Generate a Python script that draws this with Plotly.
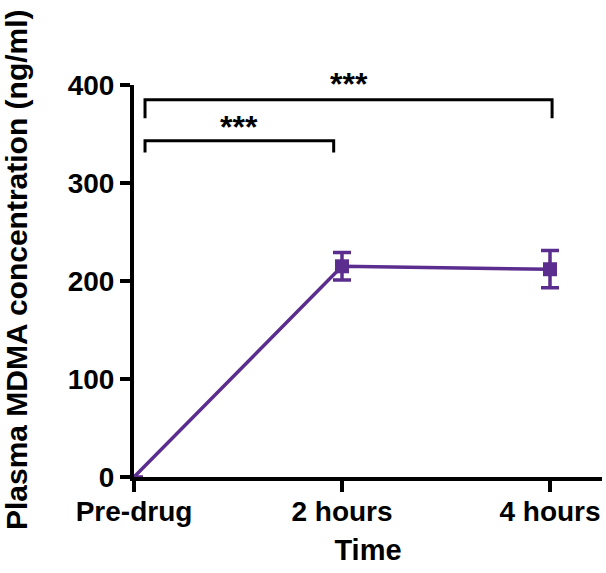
import plotly.graph_objects as go

categories = ["Pre-drug", "2 hours", "4 hours"]
x_pos = [0, 1, 2]
mdma_mean = [0, 215, 212]
mdma_sem = [0, 14, 19]
y_ticks = [0, 100, 200, 300, 400]
y_title = "Plasma MDMA concentration (ng/ml)"
x_title = "Time"

# significance brackets: (x_start, x_end, y_bar, y_tick_end, label_y, label)
brackets = [
    (0.053, 0.96, 343, 331, 357, "***"),
    (0.053, 2.01, 385, 366, 401, "***"),
]

purple = "#5a2d8f"
font_family = "Liberation Sans, Arial, sans-serif"
y_max = 400

fig = go.Figure()
fig.add_trace(go.Scatter(
    x=x_pos, y=mdma_mean,
    mode="lines+markers",
    line=dict(color=purple, width=3.5),
    marker=dict(symbol="square", size=[0, 14, 14], color=purple,
                line=dict(width=0), opacity=1),
    error_y=dict(type="data", array=mdma_sem, visible=True,
                 color=purple, thickness=3.5, width=9),
    cliponaxis=False,
    showlegend=False,
))

for x0, x1, yb, yt, ly, lab in brackets:
    fig.add_shape(type="path",
                  path=f"M {x0},{yt} L {x0},{yb} L {x1},{yb} L {x1},{yt}",
                  line=dict(color="black", width=3), xref="x", yref="y")
    fig.add_annotation(x=(x0 + x1) / 2, y=ly / y_max, text=f"<b>{lab}</b>",
                       showarrow=False, yanchor="middle",
                       font=dict(size=32, color="black", family=font_family),
                       xref="x", yref="paper")

# y-axis title as rotated annotation
fig.add_annotation(x=-0.2521, y=0.528, xref="paper", yref="paper",
                   text=f"<b>{y_title}</b>", textangle=-90, showarrow=False,
                   xanchor="center", yanchor="middle",
                   font=dict(size=30, color="black", family=font_family))

fig.update_layout(
    width=606, height=573,
    margin=dict(l=134, r=4, t=85, b=96),
    plot_bgcolor="white", paper_bgcolor="white",
    font=dict(family=font_family, color="black"),
)
fig.update_xaxes(
    range=[0, 2.25], tickvals=x_pos,
    ticktext=[f"<b>{c}</b>" for c in categories],
    showgrid=False, zeroline=False, automargin=False,
    showline=True, linecolor="black", linewidth=4,
    ticks="outside", ticklen=11, tickwidth=3.5, tickcolor="black",
    ticklabelstandoff=-5,
    tickfont=dict(size=28, family=font_family),
    title=dict(text=f"<b>{x_title}</b>", font=dict(size=29, family=font_family)),
)
fig.update_yaxes(
    range=[0, y_max], tickvals=y_ticks,
    ticktext=[f"<b>{v}</b>" for v in y_ticks],
    showgrid=False, zeroline=False, automargin=False,
    showline=True, linecolor="black", linewidth=4,
    ticks="outside", ticklen=10, tickwidth=3.5, tickcolor="black",
    tickfont=dict(size=28, family=font_family),
)

fig.write_html("out.html",
               config={"displayModeBar": False},
               post_script="document.body.style.margin='0';document.body.style.overflow='hidden';")
